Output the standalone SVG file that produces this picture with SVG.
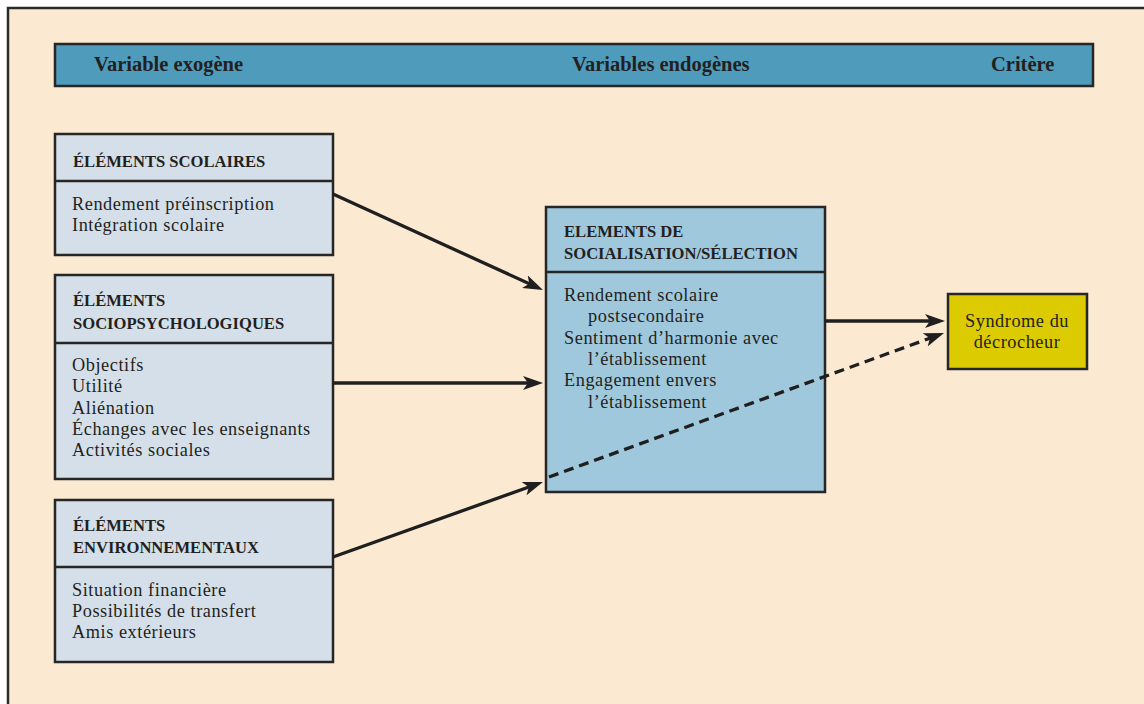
<svg xmlns="http://www.w3.org/2000/svg" width="1144" height="704" viewBox="0 0 1144 704">
<defs>
<style>
.frame{fill:#fbe9d2;stroke:#2b2b2b;stroke-width:2.5}
.hdr{fill:#4f9bbb;stroke:#262626;stroke-width:2.5}
.box{fill:#d5dfe9;stroke:#262626;stroke-width:2.5}
.cbox{fill:#9fc8dc;stroke:#262626;stroke-width:2.5}
.ybox{fill:#dccb00;stroke:#262626;stroke-width:2.5}
.div{stroke:#262626;stroke-width:2.5}
text{font-family:"Liberation Serif","Times New Roman",serif;fill:#231f20}
.h{font-size:20.5px;font-weight:bold}
.t{font-size:16.6px;font-weight:bold}
.b{font-size:18.3px;letter-spacing:0.55px}
.conn{stroke:#1f1f1f;stroke-width:3.3;fill:none}
.dash{stroke-dasharray:10 6}
</style>
<marker id="arr" viewBox="0 0 20 14" refX="14" refY="7" markerWidth="20" markerHeight="14" markerUnits="userSpaceOnUse" orient="auto">
<path d="M0,0 L20,7 L0,14 L5,7 z" fill="#1f1f1f"/>
</marker>
</defs>
<rect x="0" y="0" width="1144" height="704" fill="#ffffff"/>
<rect class="frame" x="8" y="8" width="1150" height="710"/>

<g id="header">
<rect class="hdr" x="55" y="44" width="1038" height="42"/>
<text class="h" x="94" y="71">Variable exogène</text>
<text class="h" x="572" y="71">Variables endogènes</text>
<text class="h" x="991" y="71">Critère</text>
</g>

<g id="scolaires">
<rect class="box" x="55" y="134" width="278" height="121"/>
<line class="div" x1="55" y1="181" x2="333" y2="181"/>
<text class="t" x="73" y="167">ÉLÉMENTS SCOLAIRES</text>
<text class="b" x="72" y="210">Rendement préinscription</text>
<text class="b" x="72" y="231">Intégration scolaire</text>
</g>

<g id="sociopsy">
<rect class="box" x="55" y="275" width="278" height="204"/>
<line class="div" x1="55" y1="343" x2="333" y2="343"/>
<text class="t" x="73" y="306">ÉLÉMENTS</text>
<text class="t" x="73" y="329">SOCIOPSYCHOLOGIQUES</text>
<text class="b" x="72" y="371">Objectifs</text>
<text class="b" x="72" y="392">Utilité</text>
<text class="b" x="72" y="414">Aliénation</text>
<text class="b" x="72" y="435">Échanges avec les enseignants</text>
<text class="b" x="72" y="456">Activités sociales</text>
</g>

<g id="environnement">
<rect class="box" x="55" y="500" width="278" height="162"/>
<line class="div" x1="55" y1="567" x2="333" y2="567"/>
<text class="t" x="73" y="531">ÉLÉMENTS</text>
<text class="t" x="73" y="553">ENVIRONNEMENTAUX</text>
<text class="b" x="72" y="596">Situation financière</text>
<text class="b" x="72" y="617">Possibilités de transfert</text>
<text class="b" x="72" y="638">Amis extérieurs</text>
</g>

<g id="socialisation">
<rect class="cbox" x="546" y="207" width="279" height="285"/>
<line class="div" x1="546" y1="272" x2="825" y2="272"/>
<text class="t" x="564" y="237">ELEMENTS DE</text>
<text class="t" x="564" y="259">SOCIALISATION/SÉLECTION</text>
<text class="b" x="564" y="301">Rendement scolaire</text>
<text class="b" x="588" y="322">postsecondaire</text>
<text class="b" x="564" y="344">Sentiment d’harmonie avec</text>
<text class="b" x="588" y="365">l’établissement</text>
<text class="b" x="564" y="386">Engagement envers</text>
<text class="b" x="588" y="408">l’établissement</text>
</g>

<g id="syndrome">
<rect class="ybox" x="948" y="294" width="139" height="75"/>
<text class="b" x="1017" y="327" text-anchor="middle">Syndrome du</text>
<text class="b" x="1017" y="348" text-anchor="middle">décrocheur</text>
</g>

<g id="connectors">
<line class="conn" x1="333" y1="194" x2="537.5" y2="287.5" marker-end="url(#arr)"/>
<line class="conn" x1="333" y1="383" x2="537" y2="383" marker-end="url(#arr)"/>
<line class="conn" x1="333" y1="557" x2="537.3" y2="484" marker-end="url(#arr)"/>
<line class="conn" x1="825" y1="321" x2="939" y2="321" marker-end="url(#arr)"/>
<line class="conn dash" x1="549" y1="477" x2="938.4" y2="335.1" marker-end="url(#arr)"/>
</g>
</svg>
